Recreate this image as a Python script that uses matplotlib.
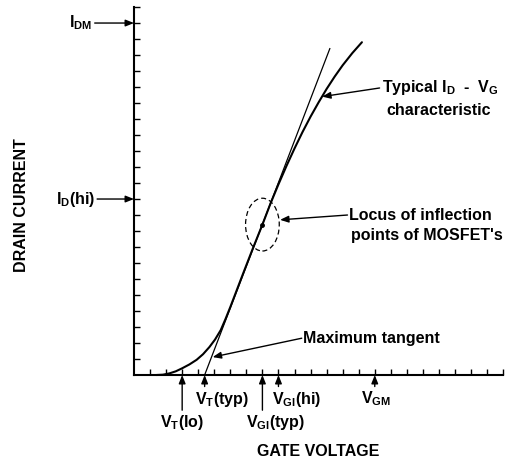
import numpy as np
import matplotlib
matplotlib.use("Agg")
import matplotlib.pyplot as plt
from matplotlib.patches import Ellipse

plt.rcParams['font.family'] = ['Liberation Sans', 'DejaVu Sans']
plt.rcParams['font.weight'] = 'bold'
plt.rcParams['mathtext.fontset'] = 'custom'
plt.rcParams['mathtext.rm'] = 'Liberation Sans:bold'
plt.rcParams['mathtext.it'] = 'Liberation Sans:bold'
plt.rcParams['mathtext.bf'] = 'Liberation Sans:bold'
plt.rcParams['mathtext.default'] = 'rm'

# typical ID-VG curve (grid units)
curve_x = [1.4, 1.8, 2.2, 2.6, 3.0, 3.45, 3.9, 4.3, 4.7, 5.05, 5.4, 5.7, 6.0,
           6.4, 6.8, 7.4, 8.0, 8.5, 9.0, 9.5, 10.0, 10.5, 11.0, 11.5, 12.0,
           12.5, 13.0, 13.6, 14.2]
curve_y = [0.0, 0.02, 0.1, 0.23, 0.42, 0.66, 0.95, 1.3, 1.75, 2.22, 2.8, 3.5, 4.25,
           5.3, 6.35, 7.9, 9.4, 10.71, 11.92, 13.07, 14.16, 15.19, 16.15, 17.04, 17.88,
           18.65, 19.36, 20.12, 20.8]

# maximum tangent line
tangent_x = [4.4, 12.2]
tangent_y = [0.0, 20.4]

# inflection point
infl_x, infl_y = 8.0, 9.4

# x-axis markers
vt_lo, vt_typ, vgi_typ, vgi_hi, vgm = 3, 4.4, 8, 9, 15
# y-axis markers
id_m, id_hi = 22, 11

n_ticks = 23

fig = plt.figure(figsize=(5.16, 4.61), dpi=100)
ax = fig.add_axes([0, 0, 1, 1])
ax.set_xlim(-8.35, 23.8)
ax.set_ylim(-5.375, 23.44)

for s in ['top', 'right']:
    ax.spines[s].set_visible(False)
ax.spines['left'].set_position(('data', 0))
ax.spines['bottom'].set_position(('data', 0))
ax.spines['left'].set_bounds(0, n_ticks)
ax.spines['bottom'].set_bounds(0, n_ticks)
ax.spines['left'].set_linewidth(1.5)
ax.spines['bottom'].set_linewidth(1.5)
ax.set_xticks(np.arange(1, n_ticks + 1))
ax.set_yticks(np.arange(1, n_ticks + 1))
ax.set_xticklabels([])
ax.set_yticklabels([])
ax.tick_params(direction='in', length=4.5, width=1.0, color='black')

ax.plot(curve_x, curve_y, color='black', lw=1.5, solid_capstyle='round')
ax.plot(tangent_x, tangent_y, color='black', lw=0.9)
ax.plot([infl_x], [infl_y], 'o', color='black', ms=2.5)
ax.add_patch(Ellipse((infl_x, infl_y), 2.1, 3.3, fill=False, ls=(0, (4, 2.5)),
                     lw=0.9, color='black'))

arr = dict(arrowstyle='-|>,head_length=0.5,head_width=0.2', color='black',
           lw=1.0, shrinkA=0, shrinkB=0)
fs = 11.5

# y-axis labels
ax.annotate('', xy=(0, id_m), xytext=(-2.45, id_m), arrowprops=arr)
ax.text(-2.6, id_m, r'$I_{DM}$', ha='right', va='center', fontsize=fs)
ax.annotate('', xy=(0, id_hi), xytext=(-2.3, id_hi), arrowprops=arr)
ax.text(-2.45, id_hi, r'$I_D$(hi)', ha='right', va='center', fontsize=fs)
ax.text(-7.0, 10.6, 'DRAIN CURRENT', rotation=90, ha='center', va='center', fontsize=fs)

# x-axis labels
ax.annotate('', xy=(vt_lo, 0), xytext=(vt_lo, -2.2), arrowprops=arr)
ax.text(vt_lo, -2.95, r'$V_T$(lo)', ha='center', va='center', fontsize=fs)
ax.annotate('', xy=(vt_typ, 0), xytext=(vt_typ, -0.72), arrowprops=arr)
ax.text(5.5, -1.5, r'$V_T$(typ)', ha='center', va='center', fontsize=fs)
ax.annotate('', xy=(vgi_typ, 0), xytext=(vgi_typ, -2.2), arrowprops=arr)
ax.text(7.0, -2.95, r'$V_{GI}$(typ)', ha='left', va='center', fontsize=fs)
ax.annotate('', xy=(vgi_hi, 0), xytext=(vgi_hi, -0.72), arrowprops=arr)
ax.text(8.6, -1.5, r'$V_{GI}$(hi)', ha='left', va='center', fontsize=fs)
ax.annotate('', xy=(vgm, 0), xytext=(vgm, -0.72), arrowprops=arr)
ax.text(15.1, -1.5, r'$V_{GM}$', ha='center', va='center', fontsize=fs)
ax.text(11.45, -4.8, 'GATE VOLTAGE', ha='center', va='center', fontsize=fs)

# callouts
ax.annotate('', xy=(4.9, 1.12), xytext=(10.45, 2.3), arrowprops=arr)
ax.text(10.55, 2.3, 'Maximum tangent', ha='left', va='center', fontsize=fs)

ax.annotate('', xy=(11.72, 17.4), xytext=(15.3, 17.94), arrowprops=arr)
ax.text(15.45, 17.94, r'Typical $I_D$  -  $V_G$', ha='left', va='center', fontsize=fs)
ax.text(15.75, 16.56, 'characteristic', ha='left', va='center', fontsize=fs)

ax.annotate('', xy=(9.1, 9.7), xytext=(13.3, 10.0), arrowprops=arr)
ax.text(13.4, 10.0, 'Locus of inflection', ha='left', va='center', fontsize=fs)
ax.text(13.5, 8.75, "points of MOSFET's", ha='left', va='center', fontsize=fs)

plt.savefig('out.png', dpi=100)
